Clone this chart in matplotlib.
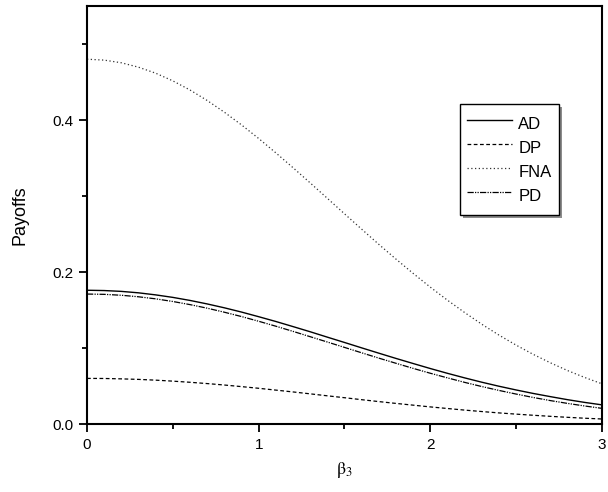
import numpy as np
import matplotlib
matplotlib.use("Agg")
import matplotlib.pyplot as plt

plt.rcParams['font.family'] = ['Liberation Sans', 'DejaVu Sans']
plt.rcParams['mathtext.fontset'] = 'stix'

# beta_3 sample points and payoff curves
beta3 = [0.0, 0.1, 0.2, 0.3, 0.4, 0.5, 0.6, 0.7, 0.8, 0.9, 1.0,
         1.1, 1.2, 1.3, 1.4, 1.5, 1.6, 1.7, 1.8, 1.9, 2.0,
         2.1, 2.2, 2.3, 2.4, 2.5, 2.6, 2.7, 2.8, 2.9, 3.0]
ad = [0.1760, 0.1756, 0.1745, 0.1726, 0.1699, 0.1666, 0.1626, 0.1580, 0.1529, 0.1473, 0.1412,
      0.1349, 0.1282, 0.1214, 0.1143, 0.1073, 0.1002, 0.0932, 0.0863, 0.0796, 0.0730,
      0.0667, 0.0607, 0.0550, 0.0497, 0.0448, 0.0402, 0.0360, 0.0320, 0.0284, 0.0252]
dp = [0.0600, 0.0599, 0.0594, 0.0587, 0.0577, 0.0564, 0.0549, 0.0532, 0.0513, 0.0492, 0.0470,
      0.0446, 0.0422, 0.0397, 0.0371, 0.0346, 0.0320, 0.0295, 0.0271, 0.0248, 0.0225,
      0.0204, 0.0183, 0.0164, 0.0146, 0.0130, 0.0115, 0.0101, 0.0088, 0.0076, 0.0066]
fna = [0.4800, 0.4788, 0.4753, 0.4695, 0.4616, 0.4515, 0.4395, 0.4257, 0.4103, 0.3936, 0.3757,
       0.3568, 0.3373, 0.3173, 0.2970, 0.2766, 0.2564, 0.2364, 0.2170, 0.1982, 0.1801,
       0.1629, 0.1467, 0.1313, 0.1170, 0.1038, 0.0916, 0.0805, 0.0703, 0.0612, 0.0529]
pd_ = [0.1710, 0.1706, 0.1694, 0.1674, 0.1647, 0.1612, 0.1571, 0.1524, 0.1471, 0.1414, 0.1352,
       0.1287, 0.1219, 0.1149, 0.1079, 0.1008, 0.0937, 0.0867, 0.0799, 0.0732, 0.0668,
       0.0607, 0.0548, 0.0493, 0.0442, 0.0394, 0.0349, 0.0308, 0.0271, 0.0237, 0.0206]

fig = plt.figure(figsize=(6.08, 4.92), dpi=100)
ax = fig.add_axes([0.1431, 0.1382, 0.8469, 0.8496])

ax.plot(beta3, ad, color='black', lw=1.0, ls='-', label='AD')
ax.plot(beta3, dp, color='black', lw=0.9, ls=(0, (3, 2)), label='DP')
ax.plot(beta3, fna, color='#333333', lw=0.9, ls=(0, (1, 2)), label='FNA')
ax.plot(beta3, pd_, color='black', lw=0.9, ls=(0, (5, 1, 1, 1, 1, 1)), label='PD')

ax.set_xlim(0, 3)
ax.set_ylim(0, 0.55)
ax.set_xticks([0, 1, 2, 3])
ax.set_xticks([0.5, 1.5, 2.5], minor=True)
ax.set_yticks([0.0, 0.2, 0.4])
ax.set_yticklabels(['0.0', '0.2', '0.4'])
ax.set_yticks([0.1, 0.3, 0.5], minor=True)
ax.tick_params(which='major', direction='out', length=6, width=1.3, labelsize=11, pad=4)
ax.tick_params(which='minor', direction='out', length=3.5, width=1.3)
for s in ax.spines.values():
    s.set_linewidth(1.5)

ax.set_xlabel(r'$\mathrm{\beta}_3$', fontsize=13, labelpad=6)
ax.set_ylabel('Payoffs', fontsize=13, labelpad=17)

leg = ax.legend(loc='upper left', bbox_to_anchor=(0.724, 0.766), borderaxespad=0,
                fontsize=12, frameon=True, fancybox=False,
                shadow={'facecolor': '0.55', 'edgecolor': 'none', 'alpha': 1},
                handlelength=2.7, handletextpad=0.35, labelspacing=0.0,
                handleheight=1.85, borderpad=0.45)
leg.get_frame().set_edgecolor('black')
leg.get_frame().set_linewidth(1.0)

fig.savefig('out.png', dpi=100)
